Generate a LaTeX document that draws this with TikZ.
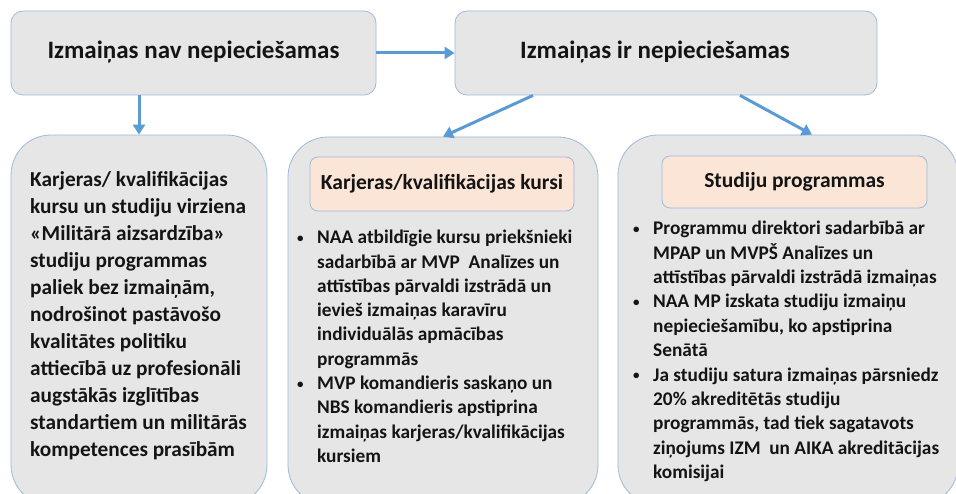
\documentclass[tikz,border=0pt]{standalone}
\usepackage{fontspec}
\setmainfont{Carlito}
\usetikzlibrary{arrows.meta,calc}
\definecolor{boxfill}{HTML}{E7E6E6}
\definecolor{boxline}{HTML}{9DB9DC}
\definecolor{arrowblue}{HTML}{5B9BD5}
\definecolor{peach}{HTML}{FBE5D6}
\definecolor{txt}{HTML}{141414}
\newcommand\bul{\makebox[20pt][l]{\raisebox{1.5pt}{\fontsize{13}{13}\selectfont\textbullet}}}
\newcommand\ind{\hspace*{20pt}}
\tikzset{
  topbox/.style={draw=boxline, fill=boxfill, line width=0.8pt, rounded corners=12pt, inner sep=0pt},
  bigbox/.style={draw=boxline, fill=boxfill, line width=0.8pt, rounded corners=40pt, inner sep=0pt},
  headbox/.style={draw=boxline, fill=peach, line width=0.8pt, rounded corners=8pt, inner sep=0pt,
    font=\bfseries\fontsize{21.5}{24}\selectfont, text=txt},
  bodytext/.style={inner sep=0pt, anchor=north west, align=left, text=txt},
  flow/.style={draw=arrowblue, line width=3pt, -{Triangle[length=10pt,width=12pt]}},
}
\begin{document}
\begin{tikzpicture}[x=1pt,y=-1pt]
\useasboundingbox (0,0) rectangle (956,494);
\clip (0,0) rectangle (956,494);
% top boxes
\node[topbox, minimum width=365pt, minimum height=84pt] (nav) at (193.5,53) {};
\node[font=\bfseries\fontsize{25}{30}\selectfont, text=txt] (navt) at (193.5,52) {Izmaiņas nav nepieciešamas};
\node[topbox, minimum width=422pt, minimum height=84pt] (ir) at (666,53) {};
\node[font=\bfseries\fontsize{25}{30}\selectfont, text=txt] (irt) at (655,52) {Izmaiņas ir nepieciešamas};
% bottom boxes
\node[bigbox, minimum width=256pt, minimum height=370pt] (left) at (139,320) {};
\node[bigbox, minimum width=310pt, minimum height=368pt] (mid) at (443,321) {};
\node[bigbox, minimum width=340pt, minimum height=370pt] (right) at (788,320) {};
% headers
\node[headbox, minimum width=264pt, minimum height=54pt] (midh) at (442,184) {Karjeras/kvalifikācijas kursi};
\node[headbox, minimum width=265pt, minimum height=52pt] (righth) at (794.5,182) {Studiju programmas};
% texts
\node[bodytext, font=\bfseries\fontsize{21.3}{27}\selectfont] (leftt) at (30,171) {%
Karjeras/ kvalifikācijas\\
kursu un studiju virziena\\
«Militārā aizsardzība»\\
studiju programmas\\
paliek bez izmaiņām,\\
nodrošinot pastāvošo\\
kvalitātes politiku\\
attiecībā uz profesionāli\\
augstākās izglītības\\
standartiem un militārās\\
kompetences prasībām};
\node[bodytext, font=\bfseries\fontsize{19.3}{24.3}\selectfont] (midt) at (297,230) {%
\bul NAA atbildīgie kursu priekšnieki\\
\ind sadarbībā ar MVP\ \ Analīzes un\\
\ind attīstības pārvaldi izstrādā un\\
\ind ievieš izmaiņas karavīru\\
\ind individuālās apmācības\\
\ind programmās\\
\bul MVP komandieris saskaņo un\\
\ind NBS komandieris apstiprina\\
\ind izmaiņas karjeras/kvalifikācijas\\
\ind kursiem};
\node[bodytext, font=\bfseries\fontsize{19.3}{24.4}\selectfont] (rightt) at (633,221) {%
\bul Programmu direktori sadarbībā ar\\
\ind MPAP un MVPŠ Analīzes un\\
\ind attīstības pārvaldi izstrādā izmaiņas\\
\bul NAA MP izskata studiju izmaiņu\\
\ind nepieciešamību, ko apstiprina\\
\ind Senātā\\
\bul Ja studiju satura izmaiņas pārsniedz\\
\ind 20\% akreditētās studiju\\
\ind programmās, tad tiek sagatavots\\
\ind ziņojums IZM\ \ un AIKA akreditācijas\\
\ind komisijai};
% arrows
\draw[flow] (nav.east) -- (ir.west);
\draw[flow] (nav.south -| left.north) -- (left.north);
\draw[flow] ([xshift=-133pt]ir.south) -- (mid.north);
\draw[flow] ([xshift=74pt]ir.south) -- ([xshift=24pt]right.north);
\end{tikzpicture}
\end{document}
